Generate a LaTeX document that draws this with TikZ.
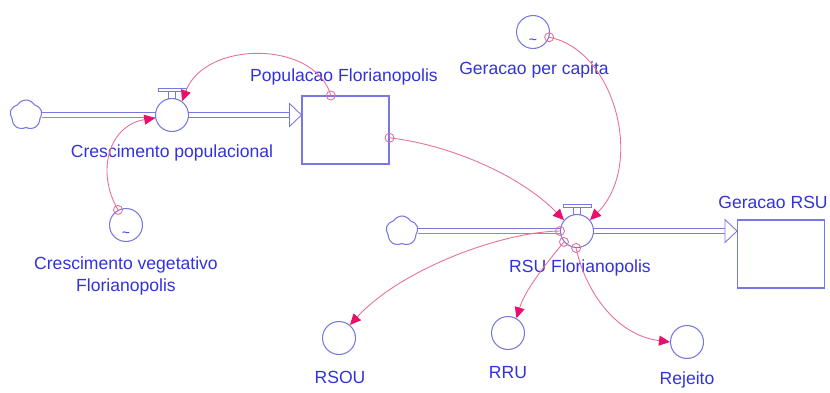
\documentclass[tikz,border=0pt]{standalone}
\usepackage{fontspec}
\setmainfont{Liberation Sans}
\usetikzlibrary{calc,arrows.meta,shapes.symbols}
\definecolor{txtblue}{RGB}{50,50,220}
\definecolor{shpblue}{RGB}{120,120,225}
\definecolor{linkpink}{RGB}{232,110,155}
\definecolor{tippink}{RGB}{232,16,106}
\begin{document}
\begin{tikzpicture}[x=0.02cm,y=-0.02cm,
    stock/.style={draw=shpblue,line width=0.6pt,minimum width=1.74cm,minimum height=1.36cm,inner sep=0pt},
    valve/.style={draw=shpblue,line width=0.6pt,fill=white,circle,minimum size=0.66cm,inner sep=0pt},
    aux/.style={draw=shpblue,line width=0.6pt,circle,minimum size=0.66cm,inner sep=0pt},
    source/.style={draw=shpblue,line width=0.6pt,cloud,cloud puffs=5,cloud puff arc=120,aspect=1,minimum width=0.64cm,minimum height=0.6cm,inner sep=0pt},
    pipe/.style={draw=shpblue,line width=0.5pt,double=white,double distance=0.8mm},
    pipehead/.style={draw=shpblue,line width=0.5pt,fill=white,line join=miter},
    lbl/.style={text=txtblue,font=\fontsize{10}{12.5}\selectfont,inner sep=0pt,align=center},
    link/.style={draw=linkpink,line width=0.5pt,-{Triangle[length=2.2mm,width=2mm,color=tippink]}},
    dot/.style={draw=linkpink,line width=0.5pt,circle,minimum size=1.8mm,inner sep=0pt},
    tilde/.style={text=txtblue,font=\footnotesize,inner sep=0pt}]
    \useasboundingbox (0,0) rectangle (830,392);
    %% Stocks
    \node[stock] (pop) at (345.5,130) {};
    \node[stock] (grsu) at (781,254) {};
    %% Clouds
    \node[source] (c1) at (26,115) {};
    \node[source] (c2) at (402,231) {};
    %% Pipes
    \coordinate (popin) at (pop.west |- 172,115);
    \coordinate (grsuin) at (grsu.west |- 577,231);
    \draw[pipe] (c1.east) -- (172,115);
    \draw[pipe] (172,115) -- ($(popin)+(-12,0)$);
    \filldraw[pipehead] (popin) -- ++(-12,-11.5) -- ++(0,23) -- cycle;
    \draw[pipe] (c2.east) -- (577,231);
    \draw[pipe] (577,231) -- ($(grsuin)+(-12,0)$);
    \filldraw[pipehead] (grsuin) -- ++(-12,-11.5) -- ++(0,23) -- cycle;
    %% Valves
    \node[valve] (v1) at (172,115) {};
    \node[valve] (rsu) at (577,231) {};
    \draw[pipehead] ($(v1.north)+(-3.5,0)$) rectangle ($(v1.north)+(3.5,-7)$);
    \draw[pipehead] ($(v1.north)+(-14,-7)$) rectangle ($(v1.north)+(14,-10)$);
    \draw[pipehead] ($(rsu.north)+(-3.5,0)$) rectangle ($(rsu.north)+(3.5,-7)$);
    \draw[pipehead] ($(rsu.north)+(-14,-7)$) rectangle ($(rsu.north)+(14,-10)$);
    %% Converters
    \node[aux] (cv) at (126,225) {};
    \node[aux] (gpc) at (533,32) {};
    \node[aux] (rsou) at (339,338) {};
    \node[aux] (rru) at (508,333) {};
    \node[aux] (rej) at (687,342) {};
    \node[tilde] (cvt) at ($(cv)+(0,10)$) {\textasciitilde};
    \node[tilde] (gpct) at ($(gpc)+(0,10)$) {\textasciitilde};
    %% Labels
    \node[lbl] (popl) at (344,77) {Populacao Florianopolis};
    \node[lbl] (v1l) at (172,153) {Crescimento populacional};
    \node[lbl] (cvl) at (126,276) {Crescimento vegetativo\\Florianopolis};
    \node[lbl] (gpcl) at (534,70) {Geracao per capita};
    \node[lbl] (rsul) at (580,268) {RSU Florianopolis};
    \node[lbl] (grsul) at (773,202) {Geracao RSU};
    \node[lbl] (rsoul) at (340,377) {RSOU};
    \node[lbl] (rrul) at (508,373) {RRU};
    \node[lbl] (rejl) at (687,380) {Rejeito};
    %% Connectors
    \node[dot] (d1) at (pop.113) {};
    \node[dot] (d2) at (cv.118) {};
    \node[dot] (d3) at (pop.350) {};
    \node[dot] (d4) at (gpc.342) {};
    \node[dot] (d5) at (rsu.180) {};
    \node[dot] (d6) at (rsu.220) {};
    \node[dot] (d7) at (rsu.267) {};
    \draw[link] (d1.center) .. controls (315,40) and (205,40) .. (v1.54);
    \draw[link] (d2.center) .. controls (95,170) and (110,125) .. (v1.190);
    \draw[link] (d3.center) .. controls (450,145) and (520,175) .. (rsu.140);
    \draw[link] (d4.center) .. controls (615,50) and (645,165) .. (rsu.40);
    \draw[link] (d5.center) .. controls (500,232) and (400,270) .. (rsou.50);
    \draw[link] (d6.center) .. controls (545,265) and (525,290) .. (rru.60);
    \draw[link] (d7.center) .. controls (585,290) and (615,335) .. (rej.180);
\end{tikzpicture}
\end{document}
